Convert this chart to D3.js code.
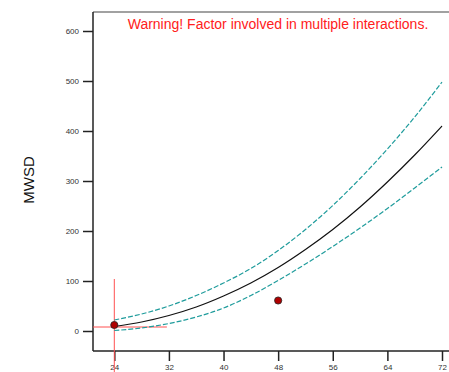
<!DOCTYPE html>
<html>
<head>
<meta charset="utf-8">
<script src="https://cdn.jsdelivr.net/npm/d3@7"></script>
<style>
  body { margin: 0; background: #fff; }
  text { font-family: "Liberation Sans", Arial, sans-serif; }
</style>
</head>
<body>
<div id="chart"></div>
<script>
// data
var xVals   = [24, 28, 32, 36, 40, 44, 48, 52, 56, 60, 64, 68, 72];
var fitVals = [9, 18, 31, 48, 70, 96, 127, 163, 203, 248, 298, 352, 410];
var upVals  = [22, 34, 50, 71, 96, 125, 161, 203, 251, 305, 364, 428, 498];
var loVals  = [1, 6, 15, 28, 46, 71, 101, 134, 169, 206, 245, 286, 328];
var obsX = [24, 48];
var obsY = [12, 61];
var xTicks = [24, 32, 40, 48, 56, 64, 72];
var yTicks = [0, 100, 200, 300, 400, 500, 600];
var refX = 24, refY = 8;

var W = 449, H = 372;
var svg = d3.select("#chart").append("svg")
  .attr("width", W)
  .attr("height", H);

var x = d3.scaleLinear().domain([24, 72]).range([114.3, 442]);
var y = d3.scaleLinear().domain([0, 600]).range([331, 31]);

var pLeft = 93, pTop = 12, pBottom = 351, pRight = W;

// frame
svg.append("line")
  .attr("x1", pLeft).attr("x2", pRight).attr("y1", pTop).attr("y2", pTop)
  .style("stroke", "#444").style("stroke-width", 1.2);

// y axis
var yAxis = svg.append("g")
  .attr("transform", "translate(" + pLeft + ",0)")
  .call(d3.axisLeft(y).tickValues(yTicks).tickSize(10).tickPadding(4));
yAxis.select(".domain").attr("d", "M0," + pTop + "V" + pBottom);

// x axis
var xAxis = svg.append("g")
  .attr("transform", "translate(0," + pBottom + ")")
  .call(d3.axisBottom(x).tickValues(xTicks).tickSize(10).tickPadding(3));
xAxis.select(".domain").attr("d", "M" + pLeft + ",0H" + pRight);

svg.selectAll(".domain").style("stroke", "#222").style("stroke-width", 1.5);
svg.selectAll(".tick line").style("stroke", "#222").style("stroke-width", 1.5);
svg.selectAll(".tick text").style("font-size", "8px").style("fill", "#333");

// axis title
svg.append("text")
  .attr("transform", "translate(34,180) rotate(-90)")
  .attr("text-anchor", "middle")
  .style("font-size", "15px")
  .style("fill", "#111")
  .text("MWSD");

// warning
svg.append("text")
  .attr("x", 278).attr("y", 29)
  .attr("text-anchor", "middle")
  .style("font-size", "14px")
  .style("fill", "#ff2020")
  .text("Warning! Factor involved in multiple interactions.");

// red crosshair
svg.append("line")
  .attr("x1", x(refX)).attr("x2", x(refX))
  .attr("y1", y(104)).attr("y2", H)
  .style("stroke", "#ff5050").style("stroke-width", 1);
svg.append("line")
  .attr("x1", pLeft).attr("x2", x(31.7))
  .attr("y1", y(refY)).attr("y2", y(refY))
  .style("stroke", "#ff5050").style("stroke-width", 1);

var line = function (vals) {
  return d3.line()
    .x(function (d, i) { return x(xVals[i]); })
    .y(function (d) { return y(d); })
    .curve(d3.curveMonotoneX)(vals);
};

svg.append("path").attr("d", line(upVals))
  .style("fill", "none").style("stroke", "#1f9c9c")
  .style("stroke-width", 1.2).style("stroke-dasharray", "5,2");
svg.append("path").attr("d", line(loVals))
  .style("fill", "none").style("stroke", "#1f9c9c")
  .style("stroke-width", 1.2).style("stroke-dasharray", "5,2");
svg.append("path").attr("d", line(fitVals))
  .style("fill", "none").style("stroke", "#111")
  .style("stroke-width", 1.2);

// observed points
svg.append("g").selectAll("circle")
  .data(obsX)
  .enter().append("circle")
  .attr("cx", function (d) { return x(d); })
  .attr("cy", function (d, i) { return y(obsY[i]); })
  .attr("r", 3.6)
  .style("fill", "#b00000")
  .style("stroke", "#222")
  .style("stroke-width", 0.8);
</script>
</body>
</html>
